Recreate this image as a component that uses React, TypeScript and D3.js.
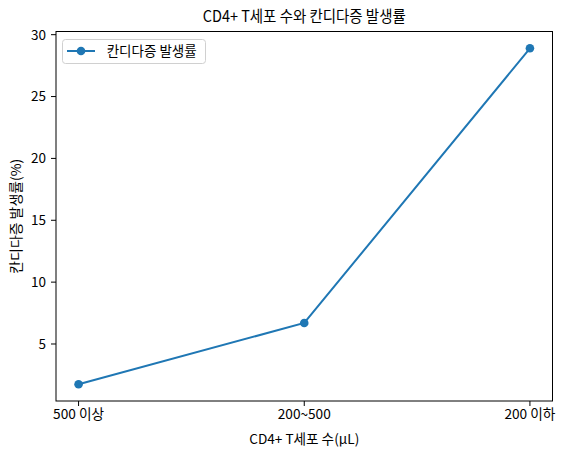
import React from "react";
import * as d3 from "d3";

const categories = ["500 이상", "200~500", "200 이하"];
const rates = [1.75, 6.7, 28.9];
const yTicks = [5, 10, 15, 20, 25, 30];

const W = 564, H = 455;
const L = 56, R = 552.5, T = 31.5, B = 401;
const FONT = "'Noto Sans CJK KR', 'Noto Sans', sans-serif";
const BLUE = "#1f77b4";
const catLen = [51, 53, 51];

export default function App() {
  const x = d3.scaleLinear().domain([-0.1, categories.length - 1 + 0.1]).range([L, R]);
  const ymin = d3.min(rates)!, ymax = d3.max(rates)!;
  const pad = (ymax - ymin) * 0.05;
  const y = d3.scaleLinear().domain([ymin - pad, ymax + pad]).range([B, T]);
  const line = d3.line<number>().x((_, i) => x(i)).y(d => y(d));
  return (
    <svg width={W} height={H} style={{ position: "absolute", left: 0, top: 0, background: "#fff" }} fontFamily={FONT}>
      <rect x={0} y={0} width={W} height={H} fill="#fff" />
      <text x={(L + R) / 2} y={22} textAnchor="middle" fontSize={16} textLength={203} lengthAdjust="spacingAndGlyphs" fill="#000">CD4+ T세포 수와 칸디다증 발생률</text>
      {yTicks.map(t => (
        <g key={t}>
          <line x1={L - 5} x2={L} y1={y(t)} y2={y(t)} stroke="#000" strokeWidth={1} />
          <text x={L - 10} y={y(t)} dy="0.36em" textAnchor="end" fontSize={13.5} fill="#000">{t}</text>
        </g>
      ))}
      {categories.map((c, i) => (
        <g key={c}>
          <line x1={x(i)} x2={x(i)} y1={B} y2={B + 5} stroke="#000" strokeWidth={1} />
          <text x={x(i)} y={419} textAnchor="middle" fontSize={13.5} textLength={catLen[i]} lengthAdjust="spacingAndGlyphs" fill="#000">{c}</text>
        </g>
      ))}
      <text x={(L + R) / 2} y={444} textAnchor="middle" fontSize={13.5} textLength={110} lengthAdjust="spacingAndGlyphs" fill="#000">CD4+ T세포 수(μL)</text>
      <text transform={`translate(21,${(T + B) / 2}) rotate(-90)`} textAnchor="middle" fontSize={13.5} textLength={115} lengthAdjust="spacingAndGlyphs" fill="#000">칸디다증 발생률(%)</text>
      <path d={line(rates)!} fill="none" stroke={BLUE} strokeWidth={2} />
      {rates.map((v, i) => (
        <circle key={i} cx={x(i)} cy={y(v)} r={4.3} fill={BLUE} />
      ))}
      <rect x={L} y={T} width={R - L} height={B - T} fill="none" stroke="#000" strokeWidth={1} />
      <g>
        <rect x={62.5} y={39.5} width={143} height={24} rx={3} fill="#fff" fillOpacity={0.8} stroke="#d0d0d0" strokeWidth={1} />
        <line x1={67} x2={95} y1={51} y2={51} stroke={BLUE} strokeWidth={2} />
        <circle cx={81} cy={51} r={4.3} fill={BLUE} />
        <text x={106.7} y={51} dy="0.36em" fontSize={13.5} textLength={90} lengthAdjust="spacingAndGlyphs" fill="#000">칸디다증 발생률</text>
      </g>
    </svg>
  );
}
